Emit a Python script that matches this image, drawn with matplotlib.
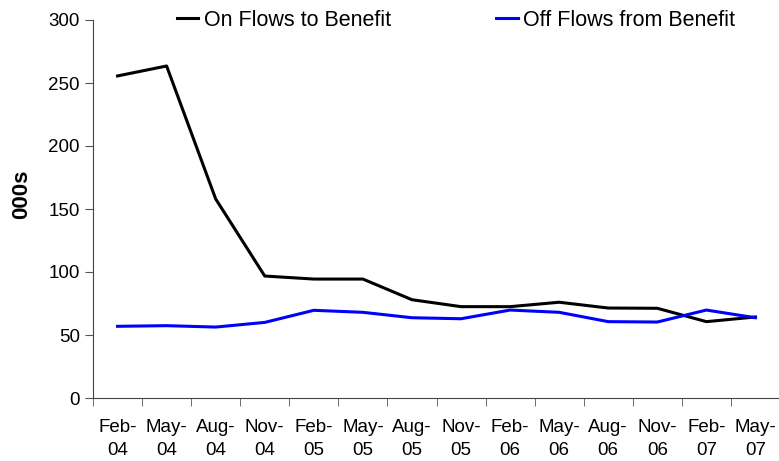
import numpy as np
import matplotlib
matplotlib.use('Agg')
import matplotlib.pyplot as plt

plt.rcParams['font.family'] = ['Liberation Sans', 'DejaVu Sans']

labels = ['Feb-\n04', 'May-\n04', 'Aug-\n04', 'Nov-\n04', 'Feb-\n05', 'May-\n05', 'Aug-\n05',
          'Nov-\n05', 'Feb-\n06', 'May-\n06', 'Aug-\n06', 'Nov-\n06', 'Feb-\n07', 'May-\n07']
on_flows = [255.6, 263.5, 158, 96.8, 94.4, 94.4, 78, 72.5, 72.5, 76, 71.4, 71.2, 60.6, 64.3]
off_flows = [56.9, 57.4, 56.3, 60, 69.6, 68, 63.7, 62.9, 69.8, 68, 60.6, 60.3, 69.8, 63.7]

fig = plt.figure(figsize=(7.79, 4.61), dpi=100)
ax = fig.add_axes([93/779, 63/461, 687/779, 378/461])

x = np.arange(len(labels))
ax.plot(x, on_flows, color='black', lw=2.2, label='On Flows to Benefit')
ax.plot(x, off_flows, color='#0000ff', lw=2.2, label='Off Flows from Benefit')

ax.set_xlim(-0.5, len(labels) - 0.5)
ax.set_ylim(0, 300)
ax.set_yticks(np.arange(0, 301, 50))
ax.set_xticks(x)
ax.set_xticklabels(labels, fontsize=13.5, linespacing=1.45)
ax.set_xticks(np.arange(-0.5, len(labels), 1), minor=True)
ax.tick_params(axis='x', which='major', length=0, pad=15)
ax.tick_params(axis='x', which='minor', length=6, color='#555555', direction='out')
ax.tick_params(axis='y', length=6, color='#555555', labelsize=13.5, direction='out')

for s in ['top', 'right']:
    ax.spines[s].set_visible(False)
ax.spines['left'].set_color('#444444')
ax.spines['bottom'].set_color('#444444')

ax.set_ylabel('000s', fontsize=16, fontweight='bold')
ax.yaxis.set_label_coords(-0.089, 0.54)

ax.legend(loc='center left', bbox_to_anchor=(0.122, 1.0), ncol=2, frameon=False,
          fontsize=15.5, handlelength=1.0, handletextpad=0.25, columnspacing=4.9,
          borderpad=0, borderaxespad=0)

fig.savefig('out.png', dpi=100)
